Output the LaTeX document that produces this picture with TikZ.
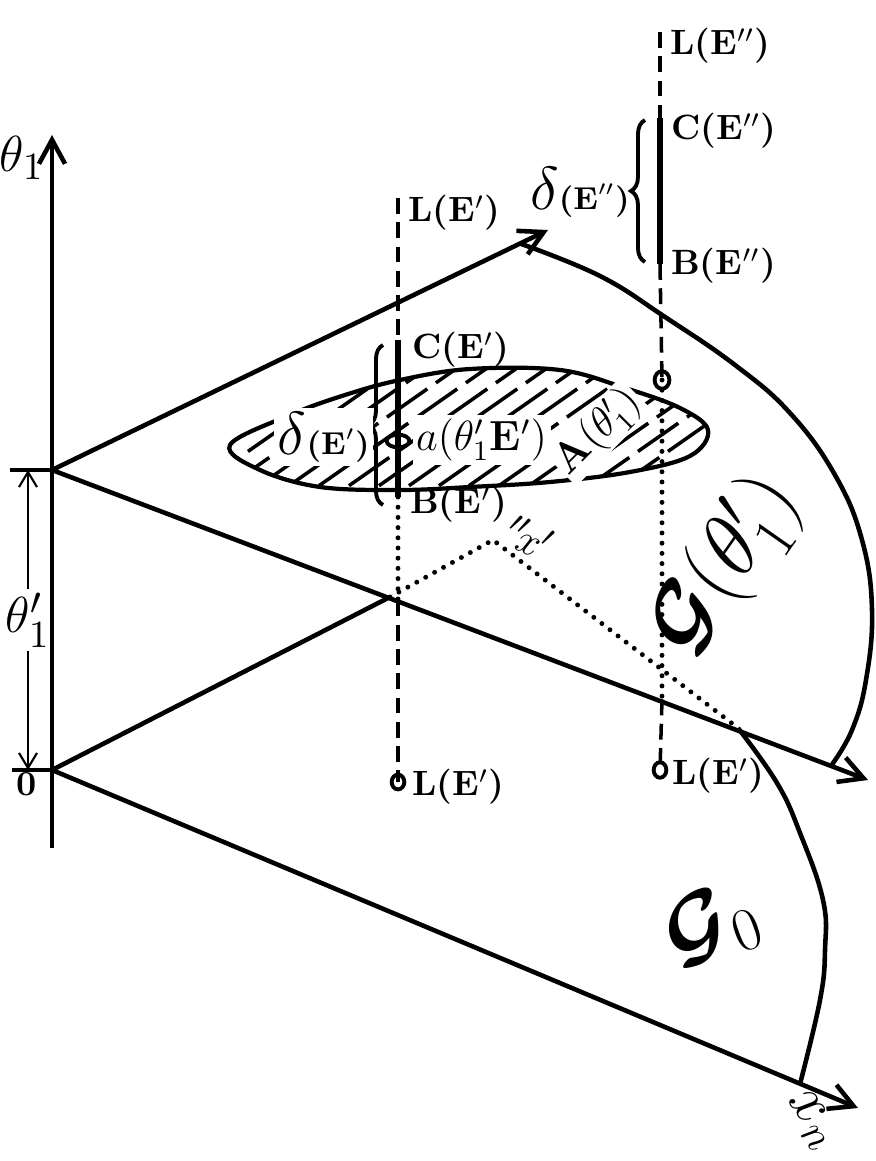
\documentclass[tikz,border=0pt]{standalone}
\usepackage{amsmath}
\usetikzlibrary{positioning,arrows.meta,calc,decorations.pathreplacing,shapes.geometric}
\definecolor{Ink}{RGB}{0,0,0}
\tikzset{
  axisline/.style={-{Straight Barb[length=2.4mm,width=2.6mm]},line width=1.3pt,draw=Ink},
  edgeline/.style={line width=1.3pt,draw=Ink},
  dimline/.style={-{Straight Barb[length=1.5mm,width=1.8mm]},line width=0.6pt,draw=Ink},
  hidden/.style={line width=1pt,dash pattern=on 4.5pt off 2.4pt,draw=Ink},
  projline/.style={line width=1.4pt,line cap=round,dash pattern=on 0pt off 2.9pt,draw=Ink},
  interval/.style={line width=1.8pt,draw=Ink},
  hatchline/.style={line width=1pt,dash pattern=on 14pt off 3pt,draw=Ink},
  ring/.style={draw=Ink,ellipse,line width=1.1pt,inner sep=0pt},
  boldlabel/.style={font=\fontsize{10}{12}\selectfont\bfseries,inner sep=1pt},
  deltalabel/.style={font=\fontsize{17}{19}\selectfont,inner sep=1pt},
  mathlabel/.style={font=\fontsize{15}{17}\selectfont,inner sep=1pt},
  glab/.style={font=\fontsize{24}{26}\selectfont,inner sep=1pt},
  bracket/.style={decorate,decoration={brace,amplitude=4pt},line width=1.1pt}
}
\newcommand{\smallE}[1]{{\fontsize{9}{10}\selectfont\bfseries(E$#1$)}}

\begin{document}
\begin{tikzpicture}[x=0.01cm,y=-0.01cm]
  \useasboundingbox (0,0) rectangle (875,1161);
  % frame
  \coordinate (axbot) at (52,848);
  \coordinate (axtop) at (52,135);
  \coordinate (V) at (52,470);
  \coordinate (O) at (52,770);
  \coordinate (u1) at (548,230);
  \coordinate (un) at (868,780);
  \coordinate (l1) at (390,597);
  \coordinate (ln) at (858,1108);
  \coordinate (x1p) at (493,540);
  \coordinate (arcL) at (738,728);
  % shaded region A
  \begin{scope}
    \clip plot[smooth cycle,tension=0.6] coordinates {(230,445) (290,415) (345,395) (400,380) (470,369) (560,370) (625,388) (680,408) (708,430) (690,456) (630,472) (550,482) (470,487) (400,490) (320,487) (260,470)};
    \foreach \k in {0,...,22}
      \draw[hatchline] ({150+30*\k},520) -- ++(280,-196);
  \end{scope}
  \draw[line width=1.2pt] plot[smooth cycle,tension=0.6] coordinates {(230,445) (290,415) (345,395) (400,380) (470,369) (560,370) (625,388) (680,408) (708,430) (690,456) (630,472) (550,482) (470,487) (400,490) (320,487) (260,470)};
  % axes and planes
  \draw[axisline] (axbot) -- (axtop);
  \draw[axisline] (V) -- (u1);
  \draw[axisline] (V) -- (un);
  \draw[edgeline] (O) -- (l1);
  \draw[axisline] (O) -- (ln);
  \draw[edgeline] plot[smooth,tension=0.7] coordinates {(520,243.5) (600,276) (665,317) (735,365) (790,413) (835,475) (862,540) (872,610) (866,680) (852,730) (832,764.5)};
  \draw[edgeline] plot[smooth,tension=0.7] coordinates {(arcL) (777,783) (800,833) (823,900) (825,950) (820,1000) (800,1084)};
  \draw[projline] (l1) -- (x1p) -- (arcL);
  % line L(E')
  \coordinate (topA) at (398,198);
  \coordinate (CA) at (398,340);
  \coordinate (BA) at (398,497);
  \coordinate (crossA) at (398,600.6);
  \node[ring,minimum width=6.5pt,minimum height=3.6pt] (aA) at (398,441) {};
  \node[ring,minimum width=3.6pt,minimum height=4.2pt] (baseA) at (398,782) {};
  \draw[hidden] (topA) -- (CA);
  \draw[interval] (CA) -- (BA);
  \draw[projline] (BA) -- (crossA);
  \draw[hidden] (crossA) -- (baseA.center);
  \draw[bracket] (383,505) -- (383,345);
  % line L(E'')
  \coordinate (topB) at (660,32);
  \coordinate (CB) at (660,118);
  \coordinate (BB) at (660,264);
  \coordinate (crossB) at (662,699.5);
  \node[ring,minimum width=4.2pt,minimum height=5pt] (rB) at (662,380) {};
  \node[ring,minimum width=3.6pt,minimum height=4.4pt] (baseB) at (660,770) {};
  \draw[hidden] (topB) -- (CB);
  \draw[interval] (CB) -- (BB);
  \draw[hidden] (BB) -- (rB.center);
  \draw[projline] (rB.center) -- (crossB);
  \draw[hidden] (crossB) -- (baseB.center);
  \draw[bracket] (645,262) -- (645,120);
  % labels on the lines
  \node[boldlabel,anchor=west] (LtopB) at (666,46) {L(E$''$)};
  \node[boldlabel,anchor=west] (CBlab) at (667,131) {C(E$''$)};
  \node[boldlabel,anchor=west] (BBlab) at (667,266) {B(E$''$)};
  \node[deltalabel,anchor=east] (dB) at (634,192) {$\delta$\smallE{''}};
  \node[boldlabel,anchor=west] (LtopA) at (404,213) {L(E$'$)};
  \node[boldlabel,anchor=west] (CAlab) at (408,350) {C(E$'$)};
  \node[boldlabel,anchor=west] (BAlab) at (406,505) {B(E$'$)};
  \node[deltalabel,anchor=east,fill=white] (dA) at (374,437) {$\delta$\smallE{'}};
  \node[boldlabel,anchor=west,fill=white,font=\fontsize{12}{14}\selectfont\bfseries] (aLab) at (412,440) {$a(\theta_1'$E$')$};
  \node[boldlabel,anchor=west] (LbaseA) at (408,787) {L(E$'$)};
  \node[boldlabel,anchor=west] (LbaseB) at (668,776) {L(E$'$)};
  \node[rotate=45,font=\fontsize{12}{14}\selectfont,fill=white,inner sep=0.5pt] (Alab) at (598,432) {$\mathbf{A}(\theta_1')$};
  % plane and axis labels
  \node[glab,rotate=55] (Gup) at (726,566) {$\boldsymbol{\mathcal{G}}(\theta_1')$};
  \node[glab,rotate=20] (Gzero) at (712,925) {$\boldsymbol{\mathcal{G}}_0$};
  \node[mathlabel,rotate=-55,font=\fontsize{17}{19}\selectfont] (xn) at (812,1120) {$x_n$};
  \node[mathlabel,rotate=-25,font=\fontsize{13}{15}\selectfont] (xlab) at (530,538) {${}^{\prime\prime}\!x'$};
  \node[mathlabel] (th) at (22,158) {$\theta_1$};
  \node[mathlabel] (thp) at (28,620) {$\theta_1'$};
  \node[boldlabel] (zero) at (27,784) {0};
  % height of the upper plane
  \coordinate (barT) at (10,470);
  \coordinate (barB) at (12,770);
  \coordinate (dimT) at (28,470);
  \coordinate (dimB) at (28,770);
  \draw[line width=0.9pt] (barT) -- (V);
  \draw[line width=0.9pt] (barB) -- (O);
  \draw[dimline] (thp) -- (dimT);
  \draw[dimline] (thp) -- (dimB);
\end{tikzpicture}
\end{document}
